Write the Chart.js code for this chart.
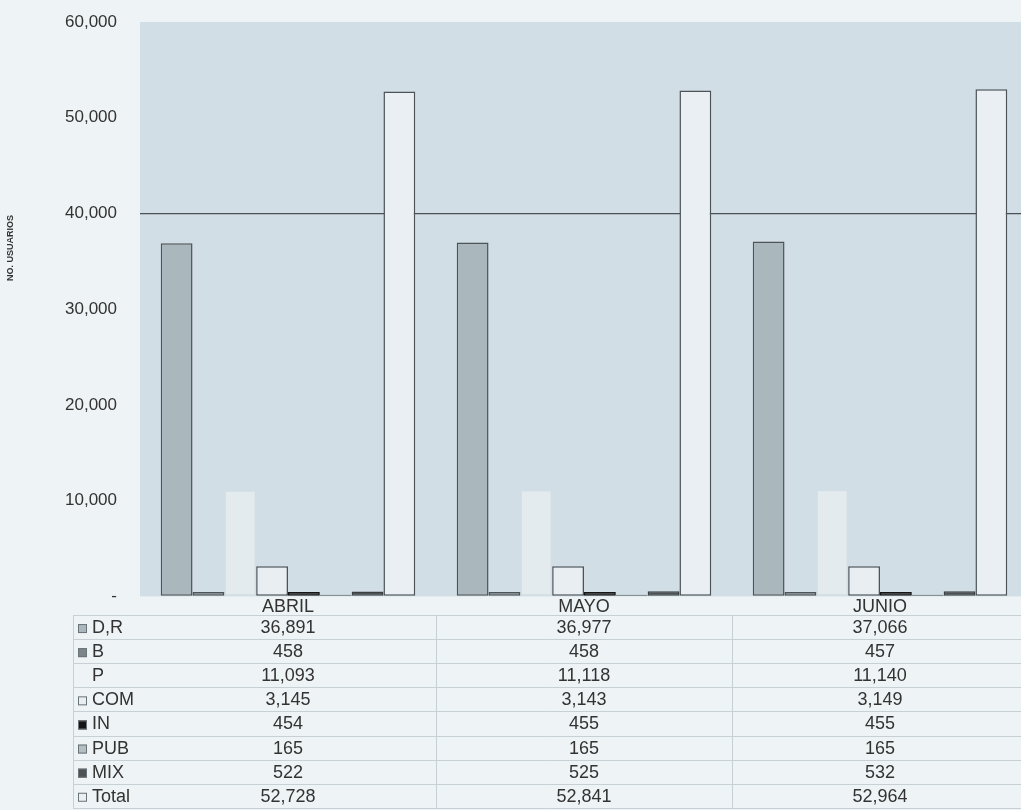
<!DOCTYPE html>
<html>
<head>
<meta charset="utf-8">
<script src="https://cdn.jsdelivr.net/npm/chart.js@4.4.1/dist/chart.umd.min.js"></script>
<style>
  html, body { margin: 0; padding: 0; background: #eef3f5; overflow: hidden; }
  #wrap { width: 1028px; height: 810px; position: relative; }
</style>
</head>
<body>
<div id="wrap"><canvas id="chart"></canvas></div>
<script>
// Data
const months = ["ABRIL", "MAYO", "JUNIO"];
const seriesNames = ["D,R", "B", "P", "COM", "IN", "PUB", "MIX", "Total"];
const dr    = [36891, 36977, 37066];
const b     = [458, 458, 457];
const p     = [11093, 11118, 11140];
const com   = [3145, 3143, 3149];
const ind   = [454, 455, 455];
const pub   = [165, 165, 165];
const mix   = [522, 525, 532];
const total = [52728, 52841, 52964];
const yTicks = [0, 10000, 20000, 30000, 40000, 50000, 60000];

const seriesValues = [dr, b, p, com, ind, pub, mix, total];

// Fill / border per series (grey scan look)
const fills   = ["#aab7bd", "#7b858a", "#e4ebef", "#e8eef1", "#151515", "#b4bfc4", "#4b5154", "#e9eff2"];
const borders = ["#4d5458", "#4d5458", "rgba(0,0,0,0)", "#4d5458", "#151515", "#4d5458", "#3a3f42", "#4d5458"];
const showMarker = [true, true, false, true, true, true, true, true];

const FONT = "'Liberation Sans', Arial, sans-serif";
const fmt = v => v.toLocaleString("en-US");

// background + plot area fill + axis title
const bgPlugin = {
  id: "bgPlugin",
  beforeDraw(chart) {
    const { ctx, chartArea: a } = chart;
    ctx.save();
    ctx.fillStyle = "#eef3f5";
    ctx.fillRect(0, 0, chart.width, chart.height);
    ctx.fillStyle = "#d2dee5";
    ctx.fillRect(a.left, a.top, a.right - a.left, a.bottom - a.top);
    // y axis title
    ctx.translate(11, 248);
    ctx.rotate(-Math.PI / 2);
    ctx.font = "bold 9px " + FONT;
    ctx.fillStyle = "#333";
    ctx.textAlign = "center";
    ctx.textBaseline = "middle";
    ctx.fillText("NO. USUARIOS", 0, 0);
    ctx.restore();
  }
};

// data table under the x axis
const tablePlugin = {
  id: "tablePlugin",
  afterDraw(chart) {
    const { ctx } = chart;
    const xs = chart.scales.x;
    const catW = xs.getPixelForValue(1) - xs.getPixelForValue(0);
    const tableLeft = 73;
    const tableRight = chart.width;
    const rowH = 24.1;
    const firstLine = 615;
    ctx.save();
    ctx.strokeStyle = "#c6d0d5";
    ctx.lineWidth = 1;
    for (let r = 0; r <= seriesNames.length; r++) {
      const y = Math.round(firstLine + r * rowH) + 0.5;
      ctx.beginPath();
      ctx.moveTo(tableLeft, y);
      ctx.lineTo(tableRight, y);
      ctx.stroke();
    }
    // vertical separators
    const vlines = [tableLeft];
    for (let i = 0; i < months.length - 1; i++) {
      vlines.push(xs.getPixelForValue(i) + catW / 2);
    }
    vlines.forEach(x => {
      ctx.beginPath();
      ctx.moveTo(Math.round(x) + 0.5, firstLine);
      ctx.lineTo(Math.round(x) + 0.5, firstLine + seriesNames.length * rowH);
      ctx.stroke();
    });

    ctx.font = "18px " + FONT;
    ctx.textBaseline = "middle";
    seriesNames.forEach((name, r) => {
      const yc = firstLine + r * rowH + rowH / 2 + 1;
      if (showMarker[r]) {
        ctx.fillStyle = fills[r];
        ctx.fillRect(78, yc - 4, 9, 9);
        ctx.strokeStyle = "#6a7378";
        ctx.strokeRect(78.5, yc - 3.5, 8, 8);
      }
      ctx.fillStyle = "#333";
      ctx.textAlign = "left";
      ctx.fillText(name, 92, yc);
      ctx.textAlign = "center";
      seriesValues[r].forEach((v, i) => {
        ctx.fillText(fmt(v), xs.getPixelForValue(i), yc);
      });
    });
    ctx.restore();
  }
};

new Chart(document.getElementById("chart"), {
  type: "bar",
  data: {
    labels: months,
    datasets: seriesNames.map((name, i) => ({
      label: name,
      data: seriesValues[i],
      backgroundColor: fills[i],
      borderColor: borders[i],
      borderWidth: 1.5,
      borderSkipped: false,
      categoryPercentage: 0.86,
      barPercentage: 1.0
    }))
  },
  options: {
    responsive: true,
    maintainAspectRatio: false,
    animation: false,
    layout: { padding: { top: 22, right: 0, bottom: 192, left: 0 } },
    plugins: {
      legend: { display: false },
      tooltip: { enabled: false }
    },
    scales: {
      x: {
        grid: { display: false, drawTicks: false },
        border: { display: false },
        ticks: {
          color: "#333",
          padding: 0,
          font: { family: FONT, size: 18 }
        }
      },
      y: {
        min: 0,
        max: 60000,
        afterBuildTicks: axis => { axis.ticks = yTicks.map(v => ({ value: v })); },
        afterFit: axis => { axis.width = 140; },
        border: { display: false },
        grid: {
          drawTicks: true,
          tickLength: 23,
          tickColor: "rgba(0,0,0,0)",
          color: c => (c.tick && c.tick.value === 40000 ? "#4a5256" : "rgba(0,0,0,0)"),
          lineWidth: 1.2
        },
        ticks: {
          color: "#333",
          padding: 0,
          font: { family: FONT, size: 17 },
          callback: v => (v === 0 ? "-" : fmt(v))
        }
      }
    }
  },
  plugins: [bgPlugin, tablePlugin]
});
</script>
</body>
</html>
